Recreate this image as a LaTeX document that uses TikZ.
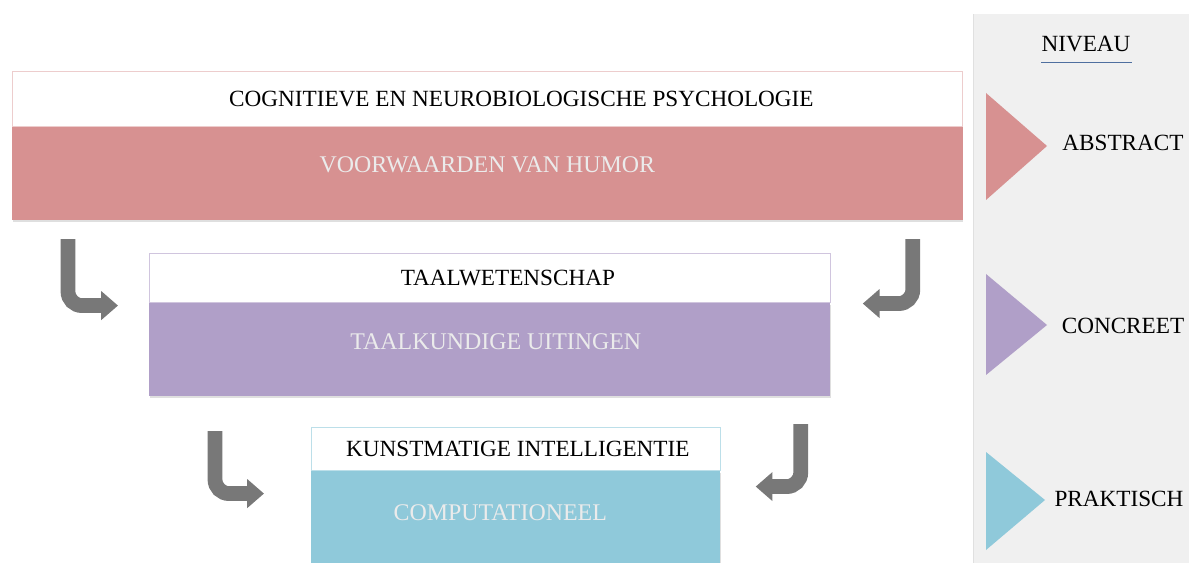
\documentclass[tikz,border=0pt]{standalone}
\usepackage{fontspec}
\setmainfont{Liberation Serif}
\usetikzlibrary{arrows.meta,positioning,calc,shadows}
\definecolor{nvAbstract}{HTML}{D79191}
\definecolor{nvConcrete}{HTML}{B09FC8}
\definecolor{nvPraktisch}{HTML}{8FC9DA}
\definecolor{nvArrow}{HTML}{787878}
\definecolor{nvPanel}{HTML}{F0F0F0}
\definecolor{nvRule}{HTML}{4F6F9F}
\tikzset{
  headbox/.style={fill=white, anchor=north west, inner sep=0pt},
  bodybox/.style={inner sep=0pt, minimum height=2.325cm,
    drop shadow={opacity=0.25, shadow xshift=0.02cm, shadow yshift=-0.06cm}},
  headtext/.style={font=\fontsize{16.5}{19}\selectfont, inner sep=0pt},
  bodytext/.style={text=white!92!black, font=\fontsize{17}{20}\selectfont, inner sep=0pt},
  leveltag/.style={font=\fontsize{16.5}{19}\selectfont, inner sep=0pt},
  bendarrow/.style={line width=0.37cm, nvArrow, rounded corners=0.35cm,
    -{Triangle[length=0.42cm, width=0.7cm]}}
}

\begin{document}
\begin{tikzpicture}[x=0.025cm, y=-0.025cm]
  \useasboundingbox (0,0) rectangle (1189,563);
  \clip (0,0) rectangle (1189,563);
  % niveau panel
  \fill[nvPanel] (973,14) rectangle (1189,563);
  \draw[black!12] (973,14) -- (973,563);
  \node[leveltag] (niveau) at (1086,44) {NIVEAU};
  \draw[nvRule] (1041,62) -- (1132,62);
  \fill[nvAbstract] (986,93) -- (1047,146) -- (986,200) -- cycle;
  \fill[nvConcrete] (986,274) -- (1047,325) -- (986,375) -- cycle;
  \fill[nvPraktisch] (986,452) -- (1045,500) -- (986,550) -- cycle;
  \node[leveltag] (abstract) at (1123,143) {ABSTRACT};
  \node[leveltag] (concreet) at (1123,326) {CONCREET};
  \node[leveltag] (praktisch) at (1119,499) {PRAKTISCH};

  % level boxes
  \node[headbox, draw=nvAbstract!45, minimum width=23.75cm, minimum height=1.375cm] (h1) at (12,71) {};
  \node[bodybox, fill=nvAbstract, minimum width=23.75cm, below=0pt of h1] (b1) {};
  \node[headtext] (t1) at ([xshift=0.85cm]h1.center) {COGNITIEVE EN NEUROBIOLOGISCHE PSYCHOLOGIE};
  \node[bodytext] (v1) at ([yshift=0.22cm]b1.center) {VOORWAARDEN VAN HUMOR};

  \node[headbox, draw=nvConcrete!60, minimum width=17.025cm, minimum height=1.225cm] (h2) at (149,253) {};
  \node[bodybox, fill=nvConcrete, minimum width=17.025cm, below=0pt of h2] (b2) {};
  \node[headtext] (t2) at ([xshift=0.45cm]h2.center) {TAALWETENSCHAP};
  \node[bodytext] (v2) at ([xshift=0.15cm, yshift=0.2cm]b2.center) {TAALKUNDIGE UITINGEN};

  \node[headbox, draw=nvPraktisch!60, minimum width=10.225cm, minimum height=1.075cm] (h3) at (311,427) {};
  \node[bodybox, fill=nvPraktisch, minimum width=10.225cm, below=0pt of h3] (b3) {};
  \node[headtext] (t3) at ([xshift=0.05cm]h3.center) {KUNSTMATIGE INTELLIGENTIE};
  \node[bodytext] (v3) at ([xshift=-0.39cm, yshift=0.11cm]b3.center) {COMPUTATIONEEL};

  % bent arrows
  \draw[bendarrow] ([xshift=1.4cm, yshift=-0.475cm]b1.south west) |- ([xshift=-0.775cm, yshift=-0.075cm]h2.south west);
  \draw[bendarrow] ([xshift=-1.25cm, yshift=-0.475cm]b1.south east) |- ([xshift=0.8cm, yshift=-0.025cm]h2.south east);
  \draw[bendarrow] ([xshift=1.65cm, yshift=-0.875cm]b2.south west) |- ([xshift=-1.175cm, yshift=-0.575cm]h3.south west);
  \draw[bendarrow] ([xshift=-0.75cm, yshift=-0.7cm]b2.south east) |- ([xshift=0.875cm, yshift=-0.4cm]h3.south east);
\end{tikzpicture}
\end{document}
